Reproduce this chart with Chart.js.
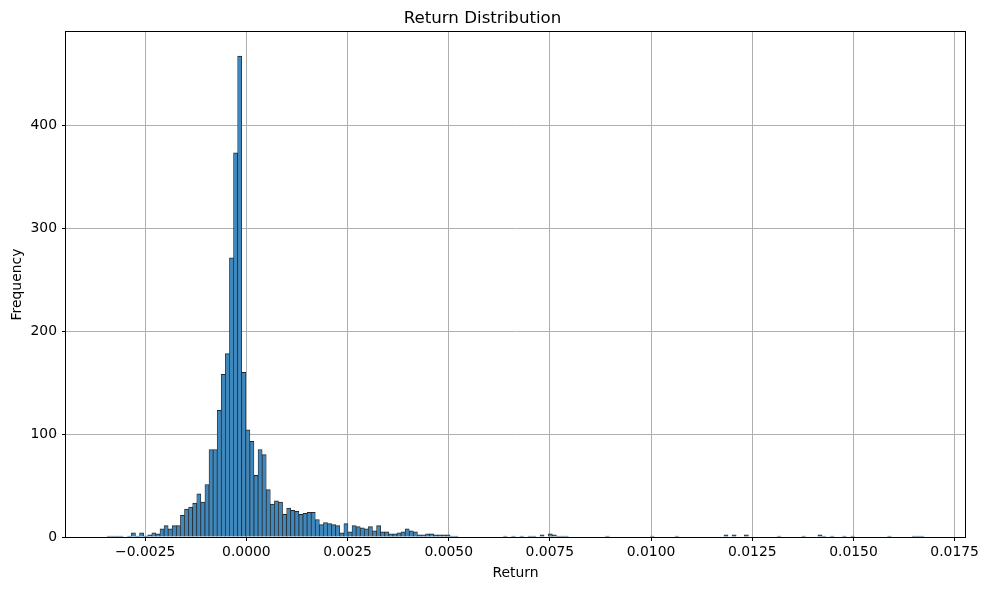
<!DOCTYPE html>
<html>
<head>
<meta charset="utf-8">
<script src="https://cdn.jsdelivr.net/npm/chart.js@4.4.1/dist/chart.umd.min.js"></script>
<style>
  html, body { margin: 0; padding: 0; background: #fff; }
  #wrap { width: 988px; height: 590px; }
</style>
</head>
<body>
<div id="wrap"><canvas id="histChart" width="988" height="590"></canvas></div>
<script>
// histogram bins (200 of them)
const binStart = -0.003447;
const binWidth = 0.00010097;
const counts = [
  1, 1, 1, 1, 0, 1, 4, 1, 4, 1, 2, 4, 3, 8, 11, 8, 11, 11, 21, 27,
  29, 33, 42, 34, 51, 85, 85, 123, 158, 178, 271, 373, 467, 160, 104, 93, 60, 85, 80, 46,
  32, 35, 34, 22, 28, 26, 25, 22, 23, 24, 24, 17, 12, 14, 13, 12, 11, 4, 13, 5,
  11, 10, 9, 8, 10, 6, 11, 5, 5, 3, 3, 4, 5, 8, 6, 5, 2, 2, 3, 3,
  2, 2, 2, 2, 1, 1, 0, 0, 0, 0, 0, 0, 0, 0, 0, 0, 0, 1, 0, 1,
  0, 1, 0, 1, 1, 0, 2, 0, 3, 2, 1, 1, 1, 0, 0, 0, 0, 0, 0, 0,
  0, 0, 1, 0, 0, 0, 0, 0, 0, 0, 0, 0, 0, 1, 0, 0, 0, 0, 0, 1,
  0, 0, 0, 0, 0, 0, 0, 0, 0, 0, 0, 2, 0, 2, 0, 0, 2, 0, 0, 0,
  0, 0, 0, 0, 1, 0, 0, 0, 0, 0, 1, 0, 0, 0, 2, 1, 0, 1, 0, 0,
  1, 0, 1, 0, 0, 0, 0, 0, 0, 0, 0, 1, 0, 0, 0, 0, 0, 1, 1, 1
];
const xTicks = [-0.0025, 0, 0.0025, 0.005, 0.0075, 0.01, 0.0125, 0.015, 0.0175];
const xTickLabels = ['\u22120.0025', '0.0000', '0.0025', '0.0050', '0.0075', '0.0100', '0.0125', '0.0150', '0.0175'];
const yTicks = [0, 100, 200, 300, 400];

const nBins = counts.length;
const points = counts.map((c, i) => ({ x: binStart + (i + 0.5) * binWidth, y: c }));
const span = nBins * binWidth;
const xMin = binStart - 0.05 * span;
const xMax = binStart + span + 0.05 * span;
const yMax = Math.max(...counts) * 1.05;

Chart.defaults.font.family = 'DejaVu Sans';
Chart.defaults.color = '#000';

// box around the plot, like the matplotlib spines
const frame = {
  id: 'frame',
  afterDraw(chart) {
    const { ctx, chartArea: a } = chart;
    ctx.save();
    ctx.strokeStyle = '#000';
    ctx.lineWidth = 1;
    ctx.strokeRect(a.left - 0.5, a.top - 0.5, a.right - a.left + 1, a.bottom - a.top + 1);
    ctx.restore();
  }
};

const ctx = document.getElementById('histChart').getContext('2d');
new Chart(ctx, {
  type: 'bar',
  data: {
    datasets: [{
      label: 'Frequency',
      data: points,
      backgroundColor: '#3e88bd',
      borderColor: '#262626',
      borderWidth: { top: 1, left: 0.75, right: 0.75, bottom: 0 },
      borderSkipped: 'start',
      barPercentage: 1,
      categoryPercentage: 1
    }]
  },
  options: {
    responsive: false,
    devicePixelRatio: 1,
    animation: false,
    layout: { padding: { left: 0, right: 23, top: 0, bottom: 0 } },
    plugins: {
      legend: { display: false },
      tooltip: { enabled: false },
      title: {
        display: true,
        text: 'Return Distribution',
        font: { size: 16.67, weight: 'normal' },
        padding: { top: 9, bottom: 3 }
      }
    },
    scales: {
      x: {
        type: 'linear',
        min: xMin,
        max: xMax,
        bounds: 'data',
        offset: false,
        z: 1,
        afterFit: function (scale) { scale.height = 53; },
        afterBuildTicks: function (scale) {
          scale.ticks = xTicks.map(v => ({ value: v }));
        },
        ticks: {
          autoSkip: false,
          maxRotation: 0,
          padding: 3,
          font: { size: 13.9 },
          callback: function (value, i) { return xTickLabels[i]; }
        },
        grid: {
          color: '#b0b0b0',
          lineWidth: 1,
          offset: false,
          drawTicks: true,
          tickLength: 4,
          tickColor: '#000'
        },
        border: { display: false },
        title: {
          display: true,
          text: 'Return',
          font: { size: 13.9 },
          padding: { top: 0, bottom: 8.6 }
        }
      },
      y: {
        min: 0,
        max: yMax,
        bounds: 'data',
        z: 1,
        afterFit: function (scale) { scale.width = 66; },
        afterBuildTicks: function (scale) {
          scale.ticks = yTicks.map(v => ({ value: v }));
        },
        ticks: {
          padding: 5,
          font: { size: 13.9 },
          callback: function (value) { return String(value); }
        },
        grid: {
          color: '#b0b0b0',
          lineWidth: 1,
          drawTicks: true,
          tickLength: 4,
          tickColor: '#000'
        },
        border: { display: false },
        title: {
          display: true,
          text: 'Frequency',
          font: { size: 13.9 },
          padding: { top: 8.6, bottom: 0 }
        }
      }
    }
  },
  plugins: [frame]
});
</script>
</body>
</html>
